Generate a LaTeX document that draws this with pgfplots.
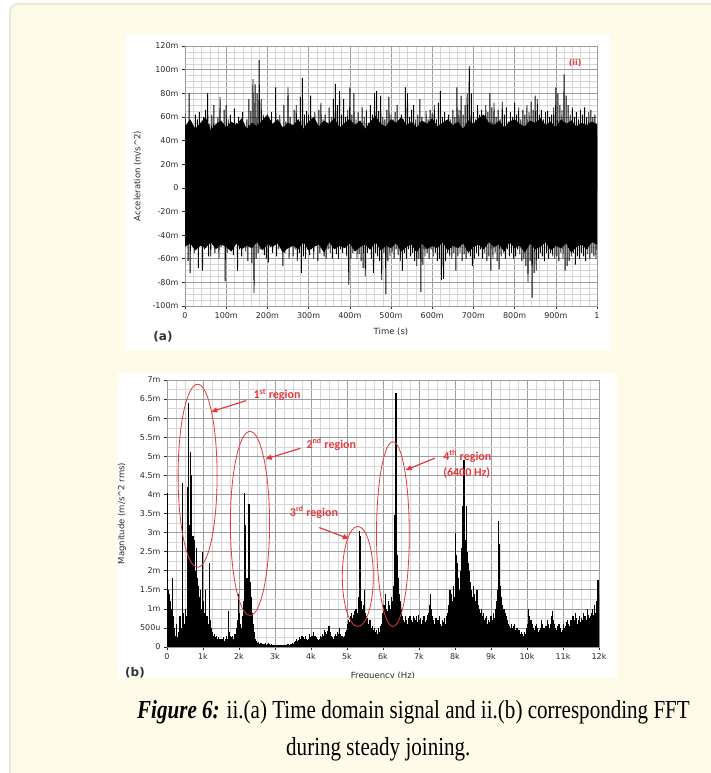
\documentclass[border=0pt]{standalone}
\usepackage{pgfplots}
\pgfplotsset{compat=1.18}
\usepackage{pgfplotstable}
\usepackage{fontspec}
\setmainfont{Liberation Serif}
\newfontfamily\capfont[FakeStretch=0.81]{Liberation Serif}
\newfontfamily\tickfont{DejaVu Sans}
\newfontfamily\annfont{Carlito}
\usetikzlibrary{arrows.meta}
\definecolor{cream}{HTML}{FFFBE9}
\definecolor{boxborder}{HTML}{ECE8DA}
\definecolor{majgrid}{HTML}{9C9C9C}
\definecolor{mingrid}{HTML}{D6D6D6}
\definecolor{annred}{HTML}{E63A3C}
\definecolor{ticktext}{HTML}{2A2A2A}

\pgfplotstableread[row sep=\\]{
y\\
63\\-48\\52\\-62\\80\\-72\\55\\-45\\48\\-55\\62\\-50\\58\\-68\\64\\-47\\50\\-70\\60\\-52\\
66\\-45\\80\\-58\\54\\-58\\62\\-48\\70\\-55\\48\\-44\\60\\-60\\77\\-50\\52\\-46\\66\\-79\\
70\\-55\\58\\-48\\62\\-52\\50\\-57\\67\\-45\\55\\-70\\60\\-52\\48\\-58\\64\\-46\\45\\-54\\
58\\-62\\75\\-50\\65\\-64\\92\\-89\\88\\-60\\80\\-55\\108\\-52\\75\\-48\\62\\-57\\55\\-60\\
60\\-63\\48\\-50\\64\\-55\\52\\-46\\85\\-58\\58\\-52\\62\\-48\\50\\-66\\70\\-55\\56\\-50\\
85\\-60\\60\\-47\\52\\-58\\66\\-52\\70\\-62\\58\\-55\\77\\-72\\93\\-58\\62\\-60\\65\\-52\\
62\\-57\\78\\-52\\56\\-60\\64\\-49\\52\\-62\\66\\-55\\72\\-48\\58\\-58\\62\\-60\\50\\-52\\
68\\-55\\60\\-60\\75\\-48\\88\\-56\\70\\-60\\82\\-52\\62\\-55\\75\\-50\\60\\-58\\66\\-82\\
85\\-60\\62\\-55\\80\\-52\\58\\-60\\64\\-56\\52\\-62\\68\\-68\\60\\-75\\66\\-55\\55\\-52\\
70\\-60\\62\\-72\\80\\-55\\82\\-58\\65\\-62\\78\\-78\\60\\-55\\58\\-90\\66\\-62\\77\\-58\\
62\\-55\\58\\-60\\64\\-52\\70\\-57\\56\\-62\\62\\-70\\58\\-55\\85\\-60\\80\\-52\\60\\-58\\
66\\-55\\70\\-62\\58\\-66\\62\\-60\\75\\-88\\60\\-65\\55\\-58\\65\\-55\\58\\-60\\66\\-52\\
63\\-58\\70\\-55\\58\\-62\\72\\-60\\82\\-78\\60\\-77\\64\\-62\\56\\-55\\62\\-58\\58\\-60\\
66\\-55\\60\\-70\\85\\-58\\66\\-55\\78\\-62\\62\\-56\\70\\-60\\80\\-55\\103\\-58\\80\\-66\\
64\\-60\\58\\-55\\70\\-58\\62\\-52\\66\\-60\\58\\-55\\70\\-62\\64\\-58\\80\\-70\\68\\-60\\
72\\-55\\60\\-62\\66\\-69\\58\\-58\\73\\-55\\62\\-60\\68\\-52\\56\\-58\\64\\-55\\60\\-60\\
72\\-58\\62\\-52\\68\\-56\\58\\-62\\66\\-60\\62\\-66\\70\\-80\\64\\-62\\73\\-93\\66\\-72\\
78\\-70\\75\\-60\\62\\-55\\66\\-58\\58\\-62\\64\\-55\\65\\-60\\60\\-55\\62\\-58\\68\\-60\\
85\\-58\\80\\-62\\70\\-55\\66\\-60\\96\\-70\\78\\-66\\70\\-62\\62\\-58\\68\\-55\\60\\-65\\
64\\-58\\58\\-60\\66\\-55\\62\\-58\\68\\-62\\60\\-56\\64\\-60\\66\\-55\\60\\-58\\62\\-60\\
45\\
}\timedata

% dense (solid black) core of the signal, upper and lower edges, every 12.5 ms
\pgfplotstableread[row sep=\\]{
y\\
52\\58\\50\\55\\60\\49\\54\\57\\51\\56\\53\\59\\50\\55\\52\\57\\62\\54\\58\\51\\
55\\53\\58\\50\\56\\60\\52\\57\\54\\59\\51\\55\\58\\53\\57\\50\\56\\61\\54\\52\\
58\\55\\60\\53\\56\\51\\57\\54\\59\\52\\55\\58\\53\\56\\50\\57\\54\\59\\62\\55\\
53\\57\\51\\56\\58\\54\\52\\57\\55\\59\\53\\56\\51\\58\\54\\57\\52\\55\\53\\56\\
54\\
}\coreup
\pgfplotstableread[row sep=\\]{
y\\
-50\\-47\\-53\\-49\\-51\\-46\\-52\\-48\\-50\\-54\\-47\\-52\\-49\\-51\\-46\\-53\\-48\\-50\\-47\\-55\\
-51\\-49\\-52\\-46\\-53\\-50\\-48\\-55\\-46\\-52\\-49\\-51\\-47\\-54\\-50\\-48\\-52\\-46\\-53\\-49\\
-51\\-47\\-54\\-50\\-48\\-55\\-47\\-52\\-49\\-51\\-46\\-53\\-49\\-51\\-47\\-55\\-50\\-48\\-52\\-46\\
-50\\-48\\-54\\-46\\-51\\-49\\-55\\-47\\-52\\-50\\-46\\-53\\-49\\-51\\-47\\-55\\-50\\-48\\-52\\-46\\
-48\\
}\corelo

\pgfplotstableread[row sep=\\]{
y\\
4.05\\1.5\\1.4\\1.2\\1.0\\1.8\\0.8\\0.5\\0.3\\0.6\\0.25\\0.4\\0.8\\0.5\\4.3\\0.9\\0.6\\1.0\\0.8\\4.2\\
6.4\\3.2\\5.1\\4.5\\2.9\\2.8\\2.0\\2.6\\1.8\\1.6\\1.3\\1.5\\1.0\\2.5\\1.2\\0.9\\1.5\\0.8\\0.6\\2.2\\
0.7\\0.5\\0.4\\0.3\\0.35\\0.25\\0.3\\0.2\\0.25\\0.2\\0.15\\0.2\\0.25\\0.15\\0.2\\0.3\\0.2\\0.95\\0.4\\0.3\\
0.25\\0.3\\0.2\\0.35\\0.5\\0.7\\1.4\\0.9\\0.6\\0.5\\0.8\\1.2\\4.05\\3.2\\1.8\\1.6\\3.75\\1.7\\1.3\\0.9\\
0.6\\0.4\\0.2\\0.15\\0.1\\0.12\\0.08\\0.1\\0.07\\0.09\\0.08\\0.1\\0.06\\0.08\\0.1\\0.07\\0.06\\0.08\\0.05\\0.06\\
0.05\\0.06\\0.04\\0.05\\0.06\\0.05\\0.04\\0.05\\0.06\\0.05\\0.05\\0.06\\0.07\\0.06\\0.08\\0.07\\0.1\\0.08\\0.12\\0.15\\
0.2\\0.15\\0.18\\0.25\\0.2\\0.3\\0.25\\0.22\\0.3\\0.2\\0.18\\0.22\\0.35\\0.25\\0.3\\0.28\\0.4\\0.3\\0.25\\0.2\\
0.18\\0.22\\0.3\\0.25\\0.35\\0.3\\0.45\\0.4\\0.35\\0.42\\0.55\\0.4\\0.3\\0.25\\0.2\\0.28\\0.35\\0.3\\0.4\\0.35\\
0.5\\0.35\\0.3\\0.25\\0.3\\0.4\\0.45\\0.6\\0.7\\0.65\\0.8\\0.9\\0.75\\0.85\\0.95\\1.0\\0.9\\1.3\\3.05\\2.9\\
1.2\\1.0\\1.1\\1.5\\0.9\\0.8\\0.75\\0.6\\0.7\\0.5\\0.55\\0.45\\0.5\\0.4\\0.45\\0.35\\0.5\\0.4\\0.55\\0.6\\
0.9\\1.1\\1.4\\1.0\\0.95\\1.2\\1.1\\1.0\\1.3\\1.2\\1.6\\3.45\\6.65\\2.4\\1.8\\1.4\\1.2\\1.0\\0.8\\0.7\\
0.65\\0.8\\0.7\\0.6\\0.75\\0.8\\0.7\\0.65\\0.8\\0.75\\0.7\\0.8\\0.65\\0.85\\0.7\\0.75\\0.6\\0.7\\0.8\\0.65\\
0.7\\0.85\\0.9\\1.1\\1.4\\1.0\\0.8\\0.7\\0.6\\0.75\\0.65\\0.7\\0.8\\0.6\\0.55\\0.7\\0.65\\0.75\\0.6\\0.8\\
0.9\\1.1\\1.5\\1.4\\1.2\\1.6\\1.3\\3.0\\2.4\\2.2\\1.8\\1.5\\2.0\\2.6\\3.7\\4.9\\2.8\\3.7\\2.5\\2.2\\
2.0\\1.7\\1.5\\1.3\\1.6\\1.4\\1.2\\1.5\\1.1\\1.0\\0.9\\1.0\\0.8\\0.9\\0.7\\0.75\\0.8\\0.6\\0.7\\0.65\\
0.8\\0.7\\0.9\\0.75\\1.0\\1.2\\1.5\\3.3\\2.7\\1.6\\1.3\\1.1\\1.0\\0.9\\0.8\\0.7\\0.6\\0.55\\0.5\\0.6\\
0.5\\0.55\\0.6\\0.45\\0.5\\0.4\\0.45\\0.35\\0.4\\0.35\\0.3\\0.4\\0.35\\0.5\\0.6\\1.0\\0.8\\0.7\\0.6\\0.5\\
0.45\\0.55\\0.6\\0.5\\0.4\\0.45\\0.5\\0.7\\0.6\\0.5\\0.45\\0.55\\0.7\\0.6\\0.5\\0.6\\0.8\\0.95\\0.7\\0.6\\
0.5\\0.45\\0.55\\0.6\\0.5\\0.4\\0.45\\0.6\\0.5\\0.55\\0.65\\0.7\\0.6\\0.55\\0.7\\0.6\\0.8\\0.7\\0.9\\0.75\\
0.6\\0.7\\0.8\\0.65\\0.75\\0.7\\0.9\\0.8\\0.7\\1.0\\0.85\\0.75\\0.8\\0.9\\1.0\\0.85\\1.1\\0.9\\1.2\\1.75\\
1.4\\
}\fftdata

\pgfplotsset{
  labview/.style={
    scale only axis,
    grid=both,
    major grid style={majgrid, line width=0.6pt},
    minor grid style={mingrid, line width=0.35pt},
    tick align=outside,
    major tick length=3pt,
    minor tick length=0pt,
    tick style={ticktext, line width=0.6pt},
    xtick pos=bottom, ytick pos=left,
    axis line style={majgrid, line width=0.8pt},
    tick label style={font=\tickfont\fontsize{8}{9}\selectfont, text=ticktext},
    label style={font=\tickfont\fontsize{8.5}{9}\selectfont, text=ticktext},
    axis background/.style={fill=white},
  }
}

\begin{document}
\begin{tikzpicture}[x=1pt,y=1pt]
\path[use as bounding box] (0,0) rectangle (711,-773);
\fill[white] (0,0) rectangle (711,-773);
\draw[boxborder, line width=2pt, fill=cream, rounded corners=8pt] (10,-4) rectangle (720,-782);
% panel backgrounds
\fill[white] (126,-35) rectangle (610,-350);
\fill[white] (118,-373) rectangle (617,-678);

% ---------- (a) time domain ----------
\begin{axis}[labview,
  at={(185pt,-306pt)}, anchor=south west,
  width=412pt, height=260pt,
  xmin=0, xmax=1, ymin=-100, ymax=120,
  xtick={0,0.1,0.2,0.3,0.4,0.5,0.6,0.7,0.8,0.9,1},
  xticklabels={0,100m,200m,300m,400m,500m,600m,700m,800m,900m,1},
  ytick={-100,-80,-60,-40,-20,0,20,40,60,80,100,120},
  yticklabels={-100m,-80m,-60m,-40m,-20m,0,20m,40m,60m,80m,100m,120m},
  minor x tick num=4, minor y tick num=3,
  xlabel={Time (s)},
  ylabel={Acceleration (m/s\^{}2)},
  xlabel style={at={(axis description cs:0.5,-0.1)}, anchor=center},
  ylabel style={at={(axis description cs:-0.115,0.5)}, anchor=center, rotate=0},
]
\addplot[fill=black, draw=none] table[x expr=\coordindex*0.0125, y index=0] {\coreup} \closedcycle;
\addplot[fill=black, draw=none] table[x expr=\coordindex*0.0125, y index=0] {\corelo} \closedcycle;
\addplot[black, line width=0.9pt] table[x expr=\coordindex*0.0025, y index=0] {\timedata};
\node[font=\tickfont\bfseries\fontsize{8}{9}\selectfont, text=annred] at (axis cs:0.947,105.6) {(ii)};
\end{axis}
\node[font=\tickfont\bfseries\fontsize{12}{14}\selectfont, text=black!80] at (163,-337) {(a)};

% ---------- (b) FFT ----------
\begin{axis}[labview,
  at={(167pt,-647pt)}, anchor=south west,
  width=432pt, height=267pt,
  xmin=0, xmax=12, ymin=0, ymax=7,
  xtick={0,1,2,3,4,5,6,7,8,9,10,11,12},
  xticklabels={0,1k,2k,3k,4k,5k,6k,7k,8k,9k,10k,11k,12k},
  ytick={0,0.5,1,1.5,2,2.5,3,3.5,4,4.5,5,5.5,6,6.5,7},
  yticklabels={0,500u,1m,1.5m,2m,2.5m,3m,3.5m,4m,4.5m,5m,5.5m,6m,6.5m,7m},
  minor x tick num=3, minor y tick num=1,
  xlabel={Frequency (Hz)},
  ylabel={Magnitude (m/s\^{}2 rms)},
  xlabel style={at={(axis description cs:0.5,-0.11)}, anchor=center},
  ylabel style={at={(axis description cs:-0.104,0.5)}, anchor=center, rotate=0},
]
\addplot[black, ycomb, line width=1.2pt] table[x expr=\coordindex*0.03, y index=0] {\fftdata};
% regions
\draw[annred, line width=0.8pt] (axis cs:0.85,4.49) ellipse [x radius=19.5pt, y radius=91.5pt];
\draw[annred, line width=0.8pt] (axis cs:2.305,3.24) ellipse [x radius=19.6pt, y radius=92pt];
\draw[annred, line width=0.8pt] (axis cs:5.3,1.85) ellipse [x radius=15.5pt, y radius=50pt];
\draw[annred, line width=0.8pt] (axis cs:6.275,2.96) ellipse [x radius=16.4pt, y radius=92.3pt];
\draw[annred, line width=1.2pt, -{Triangle[length=6pt,width=5pt]}] (axis cs:2.2,6.46) -- (axis cs:1.23,6.17);
\draw[annred, line width=1.2pt, -{Triangle[length=6pt,width=5pt]}] (axis cs:3.71,5.21) -- (axis cs:2.74,4.93);
\draw[annred, line width=1.2pt, -{Triangle[length=6pt,width=5pt]}] (axis cs:4.23,3.13) -- (axis cs:5.05,2.84);
\draw[annred, line width=1.2pt, -{Triangle[length=6pt,width=5pt]}] (axis cs:7.44,4.95) -- (axis cs:6.63,4.64);
\begin{scope}[every node/.style={font=\annfont\bfseries\fontsize{12}{13}\selectfont, text=annred, anchor=west, inner sep=0pt}]
\node at (axis cs:2.4,6.6) {1\textsuperscript{st} region};
\node at (axis cs:3.87,5.32) {2\textsuperscript{nd} region};
\node at (axis cs:3.41,3.53) {3\textsuperscript{rd} region};
\node at (axis cs:7.67,5.0) {4\textsuperscript{th} region};
\node at (axis cs:7.67,4.57) {(6400 Hz)};
\end{scope}
\end{axis}
\node[font=\tickfont\bfseries\fontsize{12}{14}\selectfont, text=black!80] at (135,-673) {(b)};
% cut-off strip below the FFT image
\fill[cream] (100,-678) rectangle (640,-692);

% ---------- caption ----------
\node[anchor=base west, inner sep=0pt] at (137,-718)
  {\capfont\fontsize{26}{30}\selectfont\textbf{\textit{Figure 6:}} ii.(a) Time domain signal and ii.(b) corresponding FFT};
\node[anchor=base west, inner sep=0pt] at (286,-755)
  {\capfont\fontsize{26}{30}\selectfont during steady joining.};
\end{tikzpicture}
\end{document}
